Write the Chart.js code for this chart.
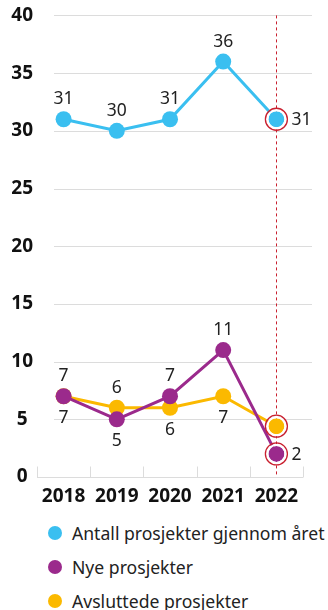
<!DOCTYPE html>
<html>
<head>
<meta charset="utf-8">
<script src="https://cdn.jsdelivr.net/npm/chart.js@4"></script>
<style>
	body { margin: 0; background: #fff; font-family: "Noto Sans", sans-serif; }
	#wrap { position: relative; width: 328px; height: 510px; }
	#legend { list-style: none; margin: 6px 0 0 0; padding: 0 0 0 48px; }
	#legend li { display: flex; align-items: center; height: 34px; font-size: 17.6px; color: #222; white-space: nowrap; }
	#legend .dot { width: 14px; height: 14px; border-radius: 50%; margin-right: 10px; flex: none; }
</style>
</head>
<body>
<div id="wrap"><canvas id="chart"></canvas></div>
<ul id="legend"></ul>
<script>
const years = ["2018", "2019", "2020", "2021", "2022"];
const antall = [31, 30, 31, 36, 31];
const nye = [7, 5, 7, 11, 2];
const avsluttede = [7, 6, 6, 7, 4.4];

// where each value label sits relative to its point (null = no label)
const antallPos = ["above", "above", "above", "above", "right"];
const nyePos = ["below", "below", "above", "above", "right"];
const avsluttedePos = ["above", "above", "below", "below", null];

const blue = "#3abff0";
const purple = "#9b2a8c";
const yellow = "#fbb900";
const red = "#c9202f";
const grid = "#dcdcdc";
const font = "'Noto Sans', sans-serif";

const series = (label, data, color, pos) => ({
	label,
	data,
	labelPos: pos,
	borderColor: color,
	backgroundColor: color,
	borderWidth: 3,
	pointRadius: 8,
	pointHoverRadius: 8,
	pointBorderWidth: 0,
	tension: 0,
});

// horizontal grid, x baseline with category ticks, and the dashed marker for the last year
const backdrop = {
	id: "backdrop",
	beforeDatasetsDraw(chart) {
		const { ctx, chartArea: a, scales } = chart;
		const y = scales.y;
		const x = scales.x;
		ctx.save();
		ctx.strokeStyle = grid;
		ctx.lineWidth = 1;
		y.ticks.forEach((t) => {
			if (t.value === 0) return;
			const py = Math.round(y.getPixelForValue(t.value)) + 0.5;
			ctx.beginPath();
			ctx.moveTo(a.left + 17, py);
			ctx.lineTo(a.right + 9, py);
			ctx.stroke();
		});
		const base = Math.round(y.getPixelForValue(0)) + 0.5;
		ctx.beginPath();
		ctx.moveTo(a.left, base);
		ctx.lineTo(a.right, base);
		const step = (a.right - a.left) / years.length;
		for (let i = 0; i <= years.length; i++) {
			const px = Math.round(a.left + i * step) + 0.5;
			ctx.moveTo(px, base);
			ctx.lineTo(px, base - 11);
		}
		ctx.stroke();

		const last = Math.round(x.getPixelForValue(years.length - 1)) + 0.5;
		ctx.strokeStyle = red;
		ctx.setLineDash([3, 3]);
		ctx.beginPath();
		ctx.moveTo(last, a.top);
		ctx.lineTo(last, a.bottom);
		ctx.stroke();
		ctx.restore();
	},
	afterDatasetsDraw(chart) {
		const { ctx } = chart;
		ctx.save();
		chart.data.datasets.forEach((ds, di) => {
			const meta = chart.getDatasetMeta(di);
			const pt = meta.data[meta.data.length - 1];
			ctx.lineWidth = 2;
			ctx.strokeStyle = "#fff";
			ctx.beginPath();
			ctx.arc(pt.x, pt.y, 9, 0, Math.PI * 2);
			ctx.stroke();
			ctx.lineWidth = 1.3;
			ctx.strokeStyle = red;
			ctx.beginPath();
			ctx.arc(pt.x, pt.y, 11, 0, Math.PI * 2);
			ctx.stroke();
		});

		ctx.font = "17.5px " + font;
		ctx.fillStyle = "#222";
		chart.data.datasets.forEach((ds, di) => {
			const meta = chart.getDatasetMeta(di);
			meta.data.forEach((pt, i) => {
				const pos = ds.labelPos[i];
				if (!pos) return;
				const text = String(ds.data[i]);
				ctx.textBaseline = "middle";
				if (pos === "right") {
					ctx.textAlign = "left";
					ctx.fillText(text, pt.x + 15, pt.y + 1);
				} else {
					ctx.textAlign = "center";
					ctx.fillText(text, pt.x, pos === "above" ? pt.y - 20 : pt.y + 22);
				}
			});
		});
		ctx.restore();
	},
};

const ctx = document.getElementById("chart").getContext("2d");

window.chart = new Chart(ctx, {
	type: "line",
	data: {
		labels: years,
		datasets: [
			series("Antall prosjekter gjennom året", antall, blue, antallPos),
			series("Nye prosjekter", nye, purple, nyePos),
			series("Avsluttede prosjekter", avsluttede, yellow, avsluttedePos),
		],
	},
	options: {
		responsive: true,
		maintainAspectRatio: false,
		animation: false,
		events: [],
		layout: { padding: { top: 15, right: 25, left: 0, bottom: 0 } },
		plugins: {
			legend: { display: false },
			tooltip: { enabled: false },
		},
		scales: {
			x: {
				offset: true,
				grid: { display: false },
				border: { display: false },
				ticks: { color: "#111", padding: 0, font: { family: font, size: 19, weight: "bold" } },
				afterFit: (s) => { s.height = 33; },
			},
			y: {
				min: 0,
				max: 40,
				grid: { display: false, drawTicks: false },
				border: { display: false },
				ticks: { stepSize: 5, color: "#111", padding: 4, crossAlign: "center", font: { family: font, size: 19, weight: "bold" } },
				afterFit: (s) => { s.width = 37; },
			},
		},
	},
	plugins: [backdrop],
});

// legend built from the datasets
document.getElementById("legend").innerHTML = window.chart.data.datasets
	.map((ds) => `<li><span class="dot" style="background:${ds.borderColor}"></span>${ds.label}</li>`)
	.join("");
</script>
</body>
</html>
